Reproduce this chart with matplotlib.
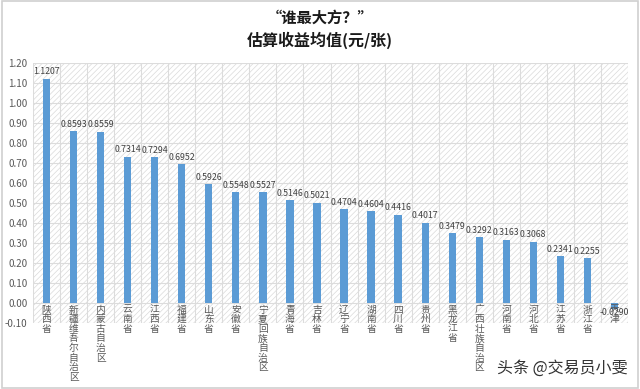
import numpy as np
import matplotlib.pyplot as plt
from matplotlib.patches import Rectangle

plt.rcParams['font.family'] = ['Noto Sans CJK SC', 'DejaVu Sans']
plt.rcParams['hatch.color'] = '#dadada'
plt.rcParams['hatch.linewidth'] = 0.5

# data
provinces = ['陕西省', '新疆维吾尔自治区', '内蒙古自治区', '云南省', '江西省', '福建省',
             '山东省', '安徽省', '宁夏回族自治区', '青海省', '吉林省', '辽宁省', '湖南省',
             '四川省', '贵州省', '黑龙江省', '广西壮族自治区', '河南省', '河北省',
             '江苏省', '浙江省', '天津']
values = [1.1207, 0.8593, 0.8559, 0.7314, 0.7294, 0.6952, 0.5926, 0.5548, 0.5527,
          0.5146, 0.5021, 0.4704, 0.4604, 0.4416, 0.4017, 0.3479, 0.3292, 0.3163,
          0.3068, 0.2341, 0.2255, -0.0290]
yticks = np.round(np.arange(-0.10, 1.201, 0.10), 2)

fig = plt.figure(figsize=(6.4, 3.89), dpi=100)
fig.patches.append(Rectangle((0.003, 0.003), 0.994, 0.994, transform=fig.transFigure,
                             fill=False, edgecolor='#d0d0d0', linewidth=1.2))
ax = fig.add_axes([33 / 640, 1 - 323 / 389, 595 / 640, 260 / 389])

x = np.arange(len(provinces))
ax.patch.set_facecolor('white')
ax.patch.set_hatch('//////')
ax.patch.set_edgecolor('#dadada')

ax.set_xlim(-0.5, len(provinces) - 0.5)
ax.set_ylim(-0.10, 1.20)
ax.set_yticks(yticks)
ax.set_yticklabels([f'{t:.2f}' for t in yticks], fontsize=7, color='#595959')
ax.tick_params(axis='y', length=0, pad=4)
ax.tick_params(axis='x', length=0, labelbottom=False)

for t in yticks:
    ax.axhline(t, color='#dcdcdc', linewidth=0.8, zorder=1)
for b in np.arange(-0.5, len(provinces), 1.0):
    ax.axvline(b, color='#dcdcdc', linewidth=0.8, zorder=1)
for s in ax.spines.values():
    s.set_visible(False)

ax.bar(x, values, width=0.27, color='#5b9bd5', zorder=3)

for xi, v in zip(x, values):
    if v >= 0:
        ax.text(xi, v + 0.012, f'{v:.4f}', ha='center', va='bottom', fontsize=6.3,
                color='#404040', zorder=4)
    else:
        ax.text(xi, v - 0.02, f'{v:.4f}', ha='center', va='center', fontsize=6.3,
                color='#404040', zorder=4)

# vertical category labels below the zero line
for xi, name in zip(x, provinces):
    ax.text(xi, -0.008, '\n'.join(name), ha='center', va='top', fontsize=7,
            color='#595959', linespacing=0.95, zorder=4, clip_on=False)

fig.text(0.5, 1 - 18 / 389, '“谁最大方？”', ha='center', va='center', fontsize=11,
         fontweight='bold', color='#1a1a1a')
fig.text(0.5, 1 - 40 / 389, '估算收益均值(元/张)', ha='center', va='center', fontsize=11.5,
         fontweight='bold', color='#1a1a1a')
fig.text(1 - 12 / 640, 1 - 368 / 389, '头条 @交易员小雯', ha='right', va='center',
         fontsize=11.5, color='#333333')

fig.savefig('out.png', dpi=100)
